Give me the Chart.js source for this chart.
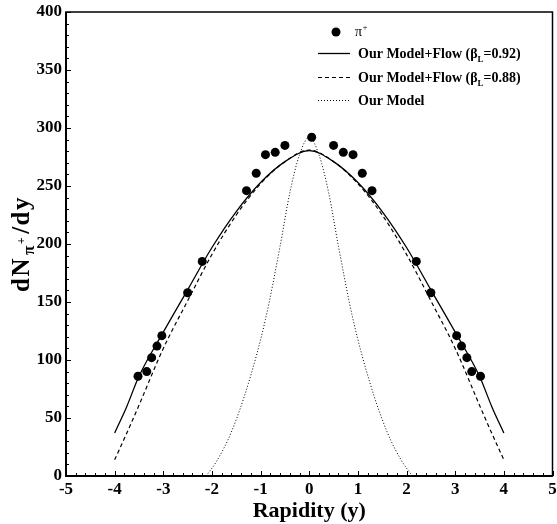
<!DOCTYPE html>
<html>
<head>
<meta charset="utf-8">
<script src="https://cdn.jsdelivr.net/npm/chart.js@4"></script>
<style>
html,body{margin:0;padding:0;background:#fff;}
#wrap{width:557px;height:524px;position:relative;}
canvas{display:block;}
</style>
</head>
<body>
<div id="wrap"><canvas id="c" width="557" height="524"></canvas></div>
<script>
// ---------- data ----------
const pionRapidity = [-3.52,-3.34,-3.24,-3.13,-3.03,-2.50,-2.20,-1.29,-1.09,-0.90,-0.70,-0.50,0.05,0.50,0.70,0.90,1.09,1.29,2.20,2.50,3.03,3.13,3.24,3.34,3.52];
const pionYield    = [86,90,102,112,121,158,185,246,261,277,279,285,292,285,279,277,261,246,185,158,121,112,102,90,86];

const flowRapidity = [-4,-3.75,-3.5,-3,-2.5,-2,-1.5,-1,-0.5,0,0.5,1,1.5,2,2.5,3,3.5,3.75,4];
const flow092      = [37,60,86,124,160.5,197,228,253,271,280.5,271,253,228,197,160.5,124,86,60,37];
const flow088      = [14,37,61,110,151,191,225,252,271,281,271,252,225,191,151,110,61,37,14];

const staticRapidity = [-2.12,-1.9,-1.6,-1.25,-0.9,-0.6,-0.4,-0.2,0,0.2,0.4,0.6,0.9,1.25,1.6,1.9,2.12];
const staticModel    = [0,13,38,80,135,198,244,277,292,277,244,198,135,80,38,13,0];

const xTicks = [-5,-4,-3,-2,-1,0,1,2,3,4,5];
const yTicks = [0,50,100,150,200,250,300,350,400];
const xMinorStep = 0.2;
const yMinorStep = 10;

const xTitle = 'Rapidity (y)';
const yTitleParts = ['dN', 'π', '+', '/dy'];
const legendNames = ['π', 'Our Model+Flow (β', 'L', '=0.92)', '=0.88)', 'Our Model'];

// ---------- helpers ----------
const FONT = "'Liberation Serif','Times New Roman',serif";
const pts = (xs, ys) => xs.map((x, i) => ({x: x, y: ys[i]}));

function drawRich(ctx, parts, x, y) {
  let cx = x;
  parts.forEach(p => {
    ctx.font = (p.bold ? 'bold ' : '') + p.size + 'px ' + FONT;
    ctx.fillText(p.t, cx, y + (p.dy || 0));
    cx += ctx.measureText(p.t).width + (p.gap || 0);
  });
  return cx - x;
}
function richWidth(ctx, parts) {
  let w = 0;
  parts.forEach(p => {
    ctx.font = (p.bold ? 'bold ' : '') + p.size + 'px ' + FONT;
    w += ctx.measureText(p.t).width + (p.gap || 0);
  });
  return w;
}

const framePlugin = {
  id: 'frameTicks',
  afterDatasetsDraw(chart) {
    const {ctx, chartArea: a, scales: {x, y}} = chart;
    ctx.save();
    ctx.strokeStyle = '#000';
    ctx.lineWidth = 1.5;
    ctx.strokeRect(a.left, a.top, a.right - a.left, a.bottom - a.top);
    ctx.lineWidth = 2;
    ctx.beginPath();
    ctx.moveTo(a.left, a.top); ctx.lineTo(a.left, a.bottom); ctx.lineTo(a.right, a.bottom);
    ctx.stroke();
    ctx.lineWidth = 1;
    ctx.beginPath();
    const x0 = xTicks[0], x1 = xTicks[xTicks.length - 1];
    const nx = Math.round((x1 - x0) / xMinorStep);
    for (let i = 0; i <= nx; i++) {
      const v = x0 + i * xMinorStep;
      const px = Math.round(x.getPixelForValue(v)) + 0.5;
      const len = (i % 5 === 0) ? 5 : 3;
      ctx.moveTo(px, a.bottom); ctx.lineTo(px, a.bottom - len);
    }
    const y0 = yTicks[0], y1 = yTicks[yTicks.length - 1];
    const ny = Math.round((y1 - y0) / yMinorStep);
    for (let i = 0; i <= ny; i++) {
      const v = y0 + i * yMinorStep;
      const py = Math.round(y.getPixelForValue(v)) + 0.5;
      const len = (i % 5 === 0) ? 5 : 3;
      ctx.moveTo(a.left, py); ctx.lineTo(a.left + len, py);
    }
    ctx.stroke();
    ctx.restore();
  }
};

const textPlugin = {
  id: 'titlesLegend',
  afterDraw(chart) {
    const {ctx, chartArea: a} = chart;
    ctx.save();
    ctx.fillStyle = '#000';
    ctx.strokeStyle = '#000';
    ctx.textBaseline = 'alphabetic';
    ctx.textAlign = 'left';

    // x title
    ctx.font = 'bold 22px ' + FONT;
    const xw = ctx.measureText(xTitle).width;
    ctx.fillText(xTitle, (a.left + a.right) / 2 - xw / 2, 517);

    // y title (rotated): dN, subscript pi with superscript plus, /dy
    const yParts = [
      {t: yTitleParts[0], size: 25, bold: true, gap: 2, dy: 0},
      {t: yTitleParts[1], size: 17, bold: true, gap: 0, dy: 5},
      {t: yTitleParts[2], size: 12, bold: true, gap: 2, dy: -4},
      {t: yTitleParts[3], size: 25, bold: true, gap: 0, dy: 0}
    ];
    ctx.save();
    ctx.translate(29, (a.top + a.bottom) / 2);
    ctx.rotate(-Math.PI / 2);
    if ('letterSpacing' in ctx) ctx.letterSpacing = '1.5px';
    const total = richWidth(ctx, yParts);
    drawRich(ctx, yParts, -total / 2, 0);
    ctx.restore();

    // legend
    ctx.beginPath(); ctx.arc(336, 32, 4.5, 0, Math.PI * 2); ctx.fill();
    ctx.font = '14px ' + FONT; ctx.fillText(legendNames[0], 355, 36);
    const wp = ctx.measureText(legendNames[0]).width;
    ctx.font = '9px ' + FONT; ctx.fillText('+', 355 + wp + 0.5, 30);

    const rows = [
      {y: 53, dash: [], w: 1.3, end: legendNames[3]},
      {y: 77, dash: [4, 3], w: 1.2, end: legendNames[4]},
      {y: 100, dash: [1, 2], w: 1, end: null}
    ];
    rows.forEach(r => {
      ctx.save();
      ctx.lineWidth = r.w;
      ctx.setLineDash(r.dash);
      ctx.beginPath(); ctx.moveTo(318, r.y + 0.5); ctx.lineTo(350, r.y + 0.5); ctx.stroke();
      ctx.restore();
      if (r.end) {
        drawRich(ctx, [
          {t: legendNames[1], size: 14, bold: true},
          {t: legendNames[2], size: 9, bold: true, dy: 4},
          {t: r.end, size: 14, bold: true}
        ], 358, r.y + 5);
      } else {
        drawRich(ctx, [{t: legendNames[5], size: 14, bold: true}], 358, r.y + 5);
      }
    });
    ctx.restore();
  }
};

const tickFont = {family: FONT, size: 17, weight: 'bold'};

new Chart(document.getElementById('c'), {
  type: 'scatter',
  data: {
    datasets: [
      {
        label: 'π+',
        data: pts(pionRapidity, pionYield),
        pointRadius: 4.5,
        pointHoverRadius: 4.5,
        pointBackgroundColor: '#000',
        pointBorderWidth: 0,
        showLine: false
      },
      {
        label: 'Our Model+Flow (βL=0.92)',
        data: pts(flowRapidity, flow092),
        showLine: true,
        pointRadius: 0,
        borderColor: '#000',
        borderWidth: 1.3,
        cubicInterpolationMode: 'monotone'
      },
      {
        label: 'Our Model+Flow (βL=0.88)',
        data: pts(flowRapidity, flow088),
        showLine: true,
        pointRadius: 0,
        borderColor: '#000',
        borderWidth: 1.2,
        borderDash: [4, 3],
        cubicInterpolationMode: 'monotone'
      },
      {
        label: 'Our Model',
        data: pts(staticRapidity, staticModel),
        showLine: true,
        pointRadius: 0,
        borderColor: '#000',
        borderWidth: 1,
        borderDash: [1, 2],
        cubicInterpolationMode: 'monotone'
      }
    ]
  },
  options: {
    responsive: false,
    animation: false,
    devicePixelRatio: 1,
    layout: {padding: {left: 0, right: 1, top: 12, bottom: 0}},
    plugins: {legend: {display: false}, tooltip: {enabled: false}, title: {display: false}},
    scales: {
      x: {
        type: 'linear', min: xTicks[0], max: xTicks[xTicks.length - 1],
        grid: {display: false, drawTicks: false},
        border: {display: false},
        ticks: {color: '#000', font: tickFont, padding: 3, maxRotation: 0, autoSkip: false},
        afterBuildTicks: s => { s.ticks = xTicks.map(v => ({value: v})); },
        afterFit: s => { s.height = 48; s.paddingLeft = 0; s.paddingRight = 0; }
      },
      y: {
        type: 'linear', min: yTicks[0], max: yTicks[yTicks.length - 1],
        grid: {display: false, drawTicks: false},
        border: {display: false},
        ticks: {color: '#000', font: tickFont, padding: 4, autoSkip: false},
        afterBuildTicks: s => { s.ticks = yTicks.map(v => ({value: v})); },
        afterFit: s => { s.width = 66; s.paddingTop = 0; s.paddingBottom = 0; }
      }
    }
  },
  plugins: [framePlugin, textPlugin]
});
</script>
</body>
</html>
